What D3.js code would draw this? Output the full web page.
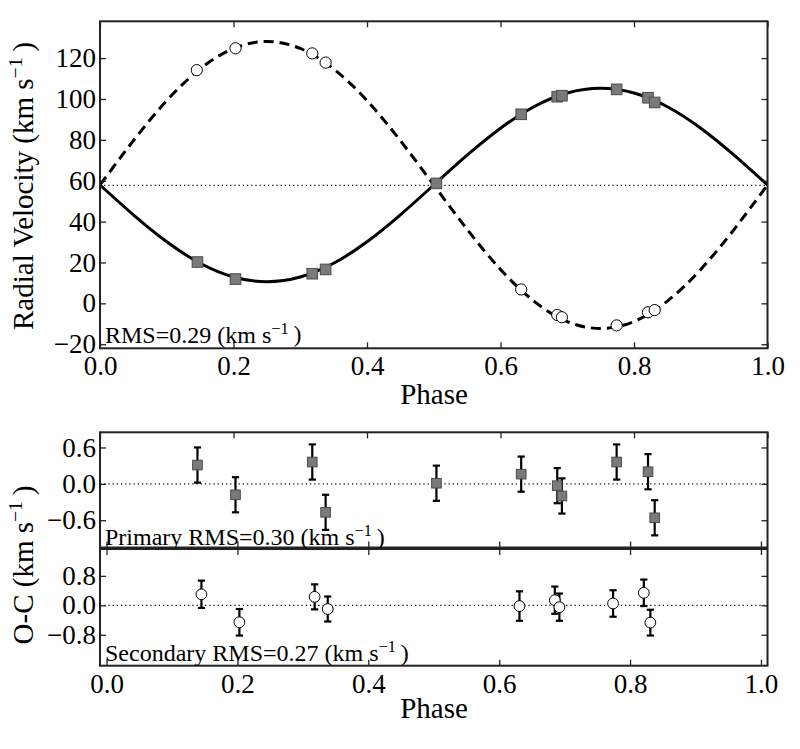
<!DOCTYPE html>
<html>
<head>
<meta charset="utf-8">
<script src="https://cdn.jsdelivr.net/npm/d3@7"></script>
<style>
  body { margin: 0; background: #fff; }
  svg text { font-family: "Liberation Serif", serif; fill: #000; }
</style>
</head>
<body>
<svg width="800" height="749"></svg>
<script>
const phasePrimary = [0.146, 0.203, 0.318, 0.338, 0.504, 0.631, 0.685, 0.692, 0.774, 0.821, 0.831];
const rvPrimary = [20.2, 11.9, 14.5, 16.6, 58.7, 92.5, 101.1, 101.6, 104.7, 100.6, 98.3];
const phaseSecondary = [0.145, 0.203, 0.318, 0.338, 0.631, 0.685, 0.692, 0.774, 0.821, 0.831];
const rvSecondary = [114.1, 124.8, 122.3, 117.8, 6.8, -5.7, -6.8, -10.8, -4.4, -3.3];

// residuals O-C and their error bars
const ocPrimary = [0.31, -0.18, 0.36, -0.47, 0.01, 0.16, -0.03, -0.2, 0.36, 0.2, -0.56];
const errPrimary = [0.29, 0.29, 0.29, 0.29, 0.29, 0.29, 0.29, 0.29, 0.29, 0.29, 0.29];
const ocSecondary = [0.3, -0.46, 0.23, -0.1, -0.02, 0.14, -0.05, 0.05, 0.34, -0.47];
const errSecondary = [0.37, 0.36, 0.34, 0.34, 0.4, 0.37, 0.37, 0.36, 0.36, 0.35];

// fitted orbit curves, sampled from the figure
const curvePhase = [0, 0.05, 0.1, 0.15, 0.2, 0.25, 0.3, 0.35, 0.4, 0.45, 0.5,
  0.55, 0.6, 0.65, 0.7, 0.75, 0.8, 0.85, 0.9, 0.95, 1];
const curvePrimary = [57.9, 43.3, 30.1, 19.6, 12.9, 10.6, 12.9, 19.6, 30.1, 43.3, 57.9,
  72.5, 85.7, 96.2, 102.9, 105.2, 102.9, 96.2, 85.7, 72.5, 57.9];
const curveSecondary = [57.9, 79.6, 99.2, 114.7, 124.7, 128.1, 124.7, 114.7, 99.2, 79.6, 57.9,
  36.2, 16.6, 1.1, -8.9, -12.3, -8.9, 1.1, 16.6, 36.2, 57.9];
const gamma = 57.7;

// tick values
const phaseTicks = [0, 0.2, 0.4, 0.6, 0.8, 1.0];
const rvTicks = [-20, 0, 20, 40, 60, 80, 100, 120];
const ocPrimaryTicks = [-0.6, 0, 0.6];
const ocSecondaryTicks = [-0.8, 0, 0.8];

const svg = d3.select("svg");
const left = 100, right = 767.5;
const font = "\"Liberation Serif\", serif";

// scales
const xTop = d3.scaleLinear().domain([0, 1]).range([left, right]);
const xOC = d3.scaleLinear().domain([-0.01, 1.01]).range([left, right]);
const yRV = d3.scaleLinear().domain([-22, 138]).range([348.3, 21.3]);
const yP = d3.scaleLinear().domain([-1.05, 0.85]).range([547.5, 432.3]);
const yS = d3.scaleLinear().domain([-1.64, 1.53]).range([665.7, 549]);

const fmt1 = d3.format(".1f");
const fmt0 = d3.format("d");

// draws a frame with inward ticks on all four sides
function frame(xs, xsBottom, ys, yTicks, yFmt, showX) {
  const [y0, y1] = ys.range();
  const g = svg.append("g").attr("class", "frame");
  const tick = -6;

  const axL = g.append("g").attr("transform", `translate(${left},0)`)
    .call(d3.axisLeft(ys).tickValues(yTicks).tickFormat(yFmt).tickSizeInner(tick).tickSizeOuter(0).tickPadding(4));
  const axR = g.append("g").attr("transform", `translate(${right},0)`)
    .call(d3.axisRight(ys).tickValues(yTicks).tickFormat("").tickSizeInner(tick).tickSizeOuter(0));
  const axT = g.append("g").attr("transform", `translate(0,${y1})`)
    .call(d3.axisTop(xs).tickValues(phaseTicks).tickFormat("").tickSizeInner(tick).tickSizeOuter(0));
  const axB = g.append("g").attr("transform", `translate(0,${y0})`)
    .call(d3.axisBottom(xsBottom).tickValues(phaseTicks).tickFormat(showX ? fmt1 : "").tickSizeInner(tick).tickSizeOuter(0).tickPadding(8));

  [axL, axR, axT, axB].forEach((a) => {
    a.select(".domain").remove();
    a.selectAll(".tick line").attr("stroke", "#222").attr("stroke-width", 1.3);
    a.selectAll("text")
      .style("font-family", font)
      .style("font-size", "27px")
      .style("fill", "#000");
  });

  g.append("rect")
    .attr("x", left).attr("y", y1)
    .attr("width", right - left).attr("height", y0 - y1)
    .attr("fill", "none").attr("stroke", "#222").attr("stroke-width", 2);
}

// text with a "−1" superscript unit
function unitText(g, before, after) {
  const t = g.append("text");
  t.append("tspan").text(before);
  t.append("tspan").attr("font-size", "0.68em").attr("dy", "-0.55em").text("−1");
  t.append("tspan").attr("dy", "0.37em").text("\u2009" + after);
  return t;
}

// ---------- top panel ----------
svg.append("line")
  .attr("x1", xTop(0)).attr("x2", xTop(1))
  .attr("y1", yRV(gamma)).attr("y2", yRV(gamma))
  .attr("stroke", "#000").attr("stroke-width", 1.2).attr("stroke-dasharray", "1.2,3");

const line = (vals) => d3.line()
  .x((d, i) => xTop(curvePhase[i]))
  .y((d) => yRV(d))
  .curve(d3.curveNatural)(vals);

svg.append("path").attr("d", line(curveSecondary))
  .attr("fill", "none").attr("stroke", "#000").attr("stroke-width", 3)
  .attr("stroke-dasharray", "10,6");
svg.append("path").attr("d", line(curvePrimary))
  .attr("fill", "none").attr("stroke", "#000").attr("stroke-width", 3);

svg.append("g").selectAll("rect")
  .data(rvPrimary)
  .join("rect")
  .attr("x", (d, i) => xTop(phasePrimary[i]) - 5.3)
  .attr("y", (d) => yRV(d) - 5.3)
  .attr("width", 10.6).attr("height", 10.6)
  .attr("fill", "#7a7a7a").attr("stroke", "#4a4a4a").attr("stroke-width", 1);

svg.append("g").selectAll("circle")
  .data(rvSecondary)
  .join("circle")
  .attr("cx", (d, i) => xTop(phaseSecondary[i]))
  .attr("cy", (d) => yRV(d))
  .attr("r", 5.6)
  .attr("fill", "#fff").attr("stroke", "#000").attr("stroke-width", 1);

frame(xTop, xTop, yRV, rvTicks, fmt0, true);

unitText(svg.append("g"), "RMS=0.29 (km s", ")")
  .attr("x", 105).attr("y", 342.5).attr("font-size", "24px");

svg.append("text")
  .attr("x", 434).attr("y", 404)
  .attr("text-anchor", "middle").attr("font-size", "29px")
  .text("Phase");

unitText(svg.append("g"), "Radial Velocity (km s", ")")
  .attr("transform", "translate(33,186) rotate(-90)")
  .attr("text-anchor", "middle").attr("font-size", "29px");

// ---------- O-C panels ----------
function residuals(xs, ys, phases, oc, err, primary) {
  svg.append("line")
    .attr("x1", left).attr("x2", right)
    .attr("y1", ys(0)).attr("y2", ys(0))
    .attr("stroke", "#000").attr("stroke-width", 1.2).attr("stroke-dasharray", "1.2,3");

  const g = svg.append("g");
  const bars = g.selectAll(".err")
    .data(oc)
    .join("g")
    .attr("class", "err");
  bars.append("line")
    .attr("x1", (d, i) => xs(phases[i])).attr("x2", (d, i) => xs(phases[i]))
    .attr("y1", (d, i) => ys(d - err[i])).attr("y2", (d, i) => ys(d + err[i]))
    .attr("stroke", "#000").attr("stroke-width", 2.2);
  [-1, 1].forEach((s) => {
    bars.append("line")
      .attr("x1", (d, i) => xs(phases[i]) - 3.6).attr("x2", (d, i) => xs(phases[i]) + 3.6)
      .attr("y1", (d, i) => ys(d + s * err[i])).attr("y2", (d, i) => ys(d + s * err[i]))
      .attr("stroke", "#000").attr("stroke-width", 2.2);
  });

  if (primary) {
    g.selectAll(".pt").data(oc).join("rect")
      .attr("class", "pt")
      .attr("x", (d, i) => xs(phases[i]) - 4.8)
      .attr("y", (d) => ys(d) - 4.8)
      .attr("width", 9.6).attr("height", 9.6)
      .attr("fill", "#7a7a7a").attr("stroke", "#4a4a4a").attr("stroke-width", 1);
  } else {
    g.selectAll(".pt").data(oc).join("circle")
      .attr("class", "pt")
      .attr("cx", (d, i) => xs(phases[i]))
      .attr("cy", (d) => ys(d))
      .attr("r", 5.4)
      .attr("fill", "#fff").attr("stroke", "#000").attr("stroke-width", 1);
  }
}

residuals(xTop, yP, phasePrimary, ocPrimary, errPrimary, true);
frame(xTop, xOC, yP, ocPrimaryTicks, fmt1, false);
unitText(svg.append("g"), "Primary RMS=0.30 (km s", ")")
  .attr("x", 105).attr("y", 545).attr("font-size", "24px");

residuals(xOC, yS, phaseSecondary, ocSecondary, errSecondary, false);
frame(xOC, xOC, yS, ocSecondaryTicks, fmt1, true);
unitText(svg.append("g"), "Secondary RMS=0.27 (km s", ")")
  .attr("x", 105).attr("y", 661).attr("font-size", "24px");

svg.append("text")
  .attr("x", 434).attr("y", 718)
  .attr("text-anchor", "middle").attr("font-size", "29px")
  .text("Phase");

unitText(svg.append("g"), "O-C (km s", ")")
  .attr("transform", "translate(33,565) rotate(-90)")
  .attr("text-anchor", "middle").attr("font-size", "29px");
</script>
</body>
</html>
